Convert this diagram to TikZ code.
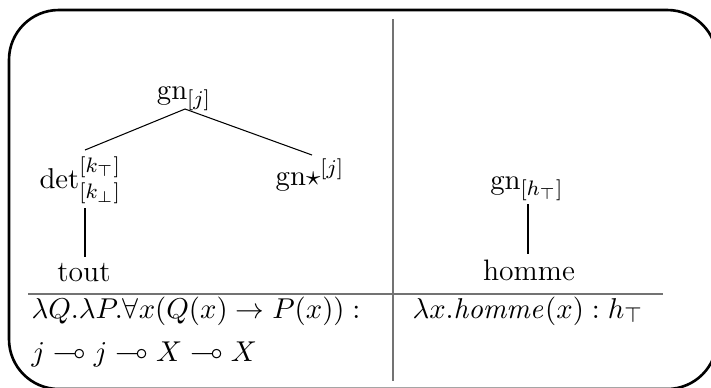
\documentclass[tikz,border=0pt]{standalone}
\usepackage{amssymb}
\begin{document}
\begin{tikzpicture}[x=0.3817pt,y=-0.3817pt,
  lbl/.style={anchor=base,inner sep=0pt,font=\fontsize{11.3}{13.5}\selectfont},
  lblw/.style={anchor=base west,inner sep=0pt,font=\fontsize{11.3}{13.5}\selectfont},
  edge/.style={line width=0.4pt},
  sep/.style={draw=black!55,line width=0.6pt},
  frame/.style={line width=1pt,rounded corners=19pt}]
\useasboundingbox (0,0) rectangle (711,387);
\draw[frame] (9,10) rectangle (717,389);
% separators
\coordinate (vt) at (393,19);
\coordinate (vb) at (393,381);
\coordinate (hl) at (28,294);
\coordinate (hr) at (663,294);
\draw[sep] (vt) -- (vb);
\draw[sep] (hl) -- (hr);
% left tree
\node[lbl] (gnj) at (184,99) {$\mathrm{gn}_{[j]}$};
\node[lblw] (det) at (39,188) {$\mathrm{det}^{[k_\top]}_{[k_\bot]}$};
\node[lbl] (gns) at (310,185) {$\mathrm{gn}{\star}^{[j]}$};
\node[lbl] (tout) at (84,281) {tout};
\coordinate (gnjb) at (185,109);
\coordinate (dett) at (85,150);
\coordinate (gnst) at (312,155);
\coordinate (detb) at (85,208);
\coordinate (toutt) at (85,257);
\draw[edge] (dett) -- (gnjb) -- (gnst);
\draw[edge] (detb) -- (toutt);
% right tree
\node[lbl] (gnh) at (527,189) {$\mathrm{gn}_{[h_\top]}$};
\node[lbl] (homme) at (529,280) {homme};
\coordinate (gnhb) at (528,204);
\coordinate (hommet) at (528,254);
\draw[edge] (gnhb) -- (hommet);
% formulas
\node[lblw] (f1) at (31,318) {$\lambda Q.\lambda P.\forall x(Q(x)\rightarrow P(x)):$};
\node[lblw] (f2) at (31,361) {$j\multimap j\multimap X\multimap X$};
\node[lblw] (f3) at (412,318) {$\lambda x.\mathit{homme}(x):h_\top$};
\end{tikzpicture}
\end{document}
